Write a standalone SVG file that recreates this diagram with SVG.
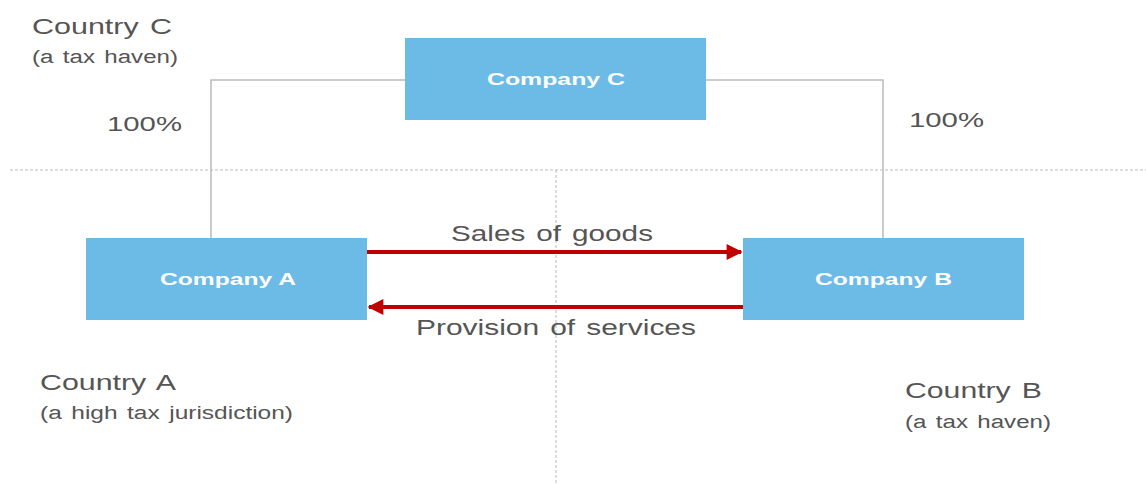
<svg xmlns="http://www.w3.org/2000/svg" width="1146" height="484" viewBox="0 0 1146 484">
<defs>
<style>
.box{fill:#6cbbe7}
.bl{font-family:"Liberation Sans",Arial,sans-serif;font-weight:bold;font-size:17px;fill:#fff}
.t{font-family:"Liberation Sans",Arial,sans-serif;fill:#555;word-spacing:2px}
.conn{fill:none;stroke:#bbb;stroke-width:1.5}
.div{fill:none;stroke:#bbb;stroke-width:1;stroke-dasharray:3 2}
.arr{fill:none;stroke:#c00000;stroke-width:4}
</style>
<marker id="ah" viewBox="0 0 10 10" refX="9" refY="5" markerWidth="5" markerHeight="4" markerUnits="strokeWidth" orient="auto">
<path d="M0,0 L10,5 L0,10 z" fill="#c00000"/>
</marker>
</defs>
<g id="dividers">
<line class="div" x1="10" y1="170" x2="1146" y2="170"/>
<line class="div" x1="556" y1="170" x2="556" y2="484"/>
</g>
<g id="connectors">
<polyline class="conn" points="405,80 211,80 211,238"/>
<polyline class="conn" points="706,80 883,80 883,238"/>
<line class="arr" x1="367" y1="252" x2="741" y2="252" marker-end="url(#ah)"/>
<line class="arr" x1="743" y1="307" x2="369" y2="307" marker-end="url(#ah)"/>
</g>
<g id="companyC">
<rect class="box" x="405" y="38" width="301" height="82"/>
<text class="bl" x="487" y="85" textLength="138" lengthAdjust="spacingAndGlyphs">Company C</text>
</g>
<g id="companyA">
<rect class="box" x="86" y="238" width="281" height="82"/>
<text class="bl" x="160" y="285" textLength="136" lengthAdjust="spacingAndGlyphs">Company A</text>
</g>
<g id="companyB">
<rect class="box" x="743" y="238" width="281" height="82"/>
<text class="bl" x="815" y="285" textLength="137" lengthAdjust="spacingAndGlyphs">Company B</text>
</g>
<g id="labels">
<text class="t" x="32" y="34" font-size="22" textLength="140" lengthAdjust="spacingAndGlyphs">Country C</text>
<text class="t" x="32" y="63" font-size="18" textLength="146" lengthAdjust="spacingAndGlyphs">(a tax haven)</text>
<text class="t" x="107" y="131" font-size="21" textLength="75" lengthAdjust="spacingAndGlyphs">100%</text>
<text class="t" x="909" y="127" font-size="21" textLength="75" lengthAdjust="spacingAndGlyphs">100%</text>
<text class="t" x="451" y="241" font-size="22" textLength="202" lengthAdjust="spacingAndGlyphs">Sales of goods</text>
<text class="t" x="416" y="335" font-size="22" textLength="280" lengthAdjust="spacingAndGlyphs">Provision of services</text>
<text class="t" x="40" y="390" font-size="22" textLength="136" lengthAdjust="spacingAndGlyphs">Country A</text>
<text class="t" x="40" y="419" font-size="18" textLength="253" lengthAdjust="spacingAndGlyphs">(a high tax jurisdiction)</text>
<text class="t" x="905" y="398" font-size="22" textLength="137" lengthAdjust="spacingAndGlyphs">Country B</text>
<text class="t" x="905" y="428" font-size="18" textLength="146" lengthAdjust="spacingAndGlyphs">(a tax haven)</text>
</g>
</svg>
